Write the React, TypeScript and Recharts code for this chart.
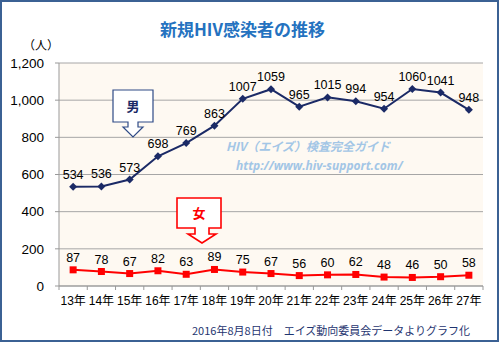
import React from 'react';
import { LineChart, Line, XAxis, YAxis, CartesianGrid, LabelList } from 'recharts';

const years = ['13年', '14年', '15年', '16年', '17年', '18年', '19年', '20年', '21年', '22年', '23年', '24年', '25年', '26年', '27年'];
const male = [534, 536, 573, 698, 769, 863, 1007, 1059, 965, 1015, 994, 954, 1060, 1041, 948];
const female = [87, 78, 67, 82, 63, 89, 75, 67, 56, 60, 62, 48, 46, 50, 58];
const yTicks = [0, 200, 400, 600, 800, 1000, 1200];

const data = years.map((y, i) => ({ year: y, male: male[i], female: female[i] }));

const W = 500;
const H = 343;
const PLOT_L = 59;
const PLOT_R = 483;
const PLOT_T = 63;
const PLOT_B = 286;
const BAND = (PLOT_R - PLOT_L) / years.length;

const NUM_FONT = '"Liberation Sans Narrow", "Liberation Sans", "Noto Sans CJK JP", sans-serif';
const CJK_FONT = '"Noto Sans CJK JP", sans-serif';

const Diamond = (props: any) => {
  const { cx, cy } = props;
  if (cx == null || cy == null) return null;
  const r = 4;
  return <polygon points={`${cx},${cy - r} ${cx + r},${cy} ${cx},${cy + r} ${cx - r},${cy}`} fill="#1B2A66" />;
};

const Square = (props: any) => {
  const { cx, cy } = props;
  if (cx == null || cy == null) return null;
  const s = 7;
  return <rect x={cx - s / 2} y={cy - s / 2} width={s} height={s} fill="#FF0000" />;
};

const XTick = (props: any) => {
  const { x, payload, index } = props;
  return (
    <g>
      <line x1={x - BAND / 2} x2={x - BAND / 2} y1={PLOT_B} y2={PLOT_B + 4} stroke="#999" />
      {index === years.length - 1 && (
        <line x1={x + BAND / 2} x2={x + BAND / 2} y1={PLOT_B} y2={PLOT_B + 4} stroke="#999" />
      )}
      <text x={x} y={PLOT_B + 19} textAnchor="middle" fontSize={12} fontFamily={NUM_FONT} fill="#000">
        {payload.value}
      </text>
    </g>
  );
};

export default function App() {
  return (
    <div style={{ position: 'absolute', left: 0, top: 0, width: W, height: H, background: '#fff' }}>
      <LineChart
        width={W}
        height={H}
        data={data}
        margin={{ top: PLOT_T, right: W - PLOT_R, bottom: 27, left: 9 }}
      >
        <CartesianGrid vertical={false} stroke="#A6A6A6" fill="#FEF9F2" />
        <XAxis
          dataKey="year"
          height={30}
          interval={0}
          padding={{ left: BAND / 2, right: BAND / 2 }}
          axisLine={{ stroke: '#999' }}
          tickLine={false}
          tick={<XTick />}
        />
        <YAxis
          width={50}
          domain={[0, 1200]}
          ticks={yTicks}
          interval={0}
          axisLine={{ stroke: '#999' }}
          tickLine={{ stroke: '#999' }}
          tickSize={4}
          tickMargin={11}
          tickFormatter={(v: number) => v.toLocaleString('en-US')}
          tick={{ fontSize: 13.5, fontFamily: NUM_FONT, fill: '#000' }}
        />
        <Line
          dataKey="male"
          stroke="#1B2A66"
          strokeWidth={2}
          dot={<Diamond />}
          isAnimationActive={false}
        >
          <LabelList dataKey="male" position="top" offset={8} fontSize={12.5} fontFamily={NUM_FONT} fill="#000" />
        </Line>
        <Line
          dataKey="female"
          stroke="#FF0000"
          strokeWidth={2}
          dot={<Square />}
          isAnimationActive={false}
        >
          <LabelList dataKey="female" position="top" offset={8} fontSize={12.5} fontFamily={NUM_FONT} fill="#000" />
        </Line>
      </LineChart>
      <svg width={W} height={H} style={{ position: 'absolute', left: 0, top: 0, pointerEvents: 'none' }}>
        <rect x={1} y={1} width={W - 3} height={H - 3} fill="none" stroke="#3B6194" strokeWidth={2} />
        <text x={242.5} y={36} textAnchor="middle" fontSize={17} fontWeight="bold" fontFamily={CJK_FONT} fill="#2472C0">
          新規HIV感染者の推移
        </text>
        <text x={41} y={50} textAnchor="middle" fontSize={12} fontFamily={CJK_FONT} fill="#000">
          （人）
        </text>
        <text x={226} y={151} fontSize={12} fontStyle="italic" fontWeight="bold" fontFamily={CJK_FONT} fill="#A3C6E6">
          HIV（エイズ）検査完全ガイド
        </text>
        <text x={236} y={170} fontSize={12} fontStyle="italic" fontWeight="bold" fontFamily={'"Open Sans", "DejaVu Sans", sans-serif'} fill="#A3C6E6">
          http://www.hiv-support.com/
        </text>
        <path
          d="M113,90 H153 V122 H138 V127 H143 L133,137 L123,127 H128 V122 H113 Z"
          fill="#fff"
          stroke="#2E4A86"
          strokeWidth={1.2}
        />
        <text x={133} y={111} textAnchor="middle" fontSize={13} fontWeight="bold" fontFamily={CJK_FONT} fill="#1B2A66">
          男
        </text>
        <path
          d="M177,198 H221 V228 H209 V234 H216 L202,243 L188,234 H195 V228 H177 Z"
          fill="#fff"
          stroke="#FF0000"
          strokeWidth={1.6}
        />
        <text x={199} y={218} textAnchor="middle" fontSize={13} fontWeight="bold" fontFamily={CJK_FONT} fill="#FF0000">
          女
        </text>
        <text x={192} y={335} fontSize={11} fontFamily={CJK_FONT} fill="#1F3570">
          2016年8月8日付　エイズ動向委員会データよりグラフ化
        </text>
      </svg>
    </div>
  );
}
